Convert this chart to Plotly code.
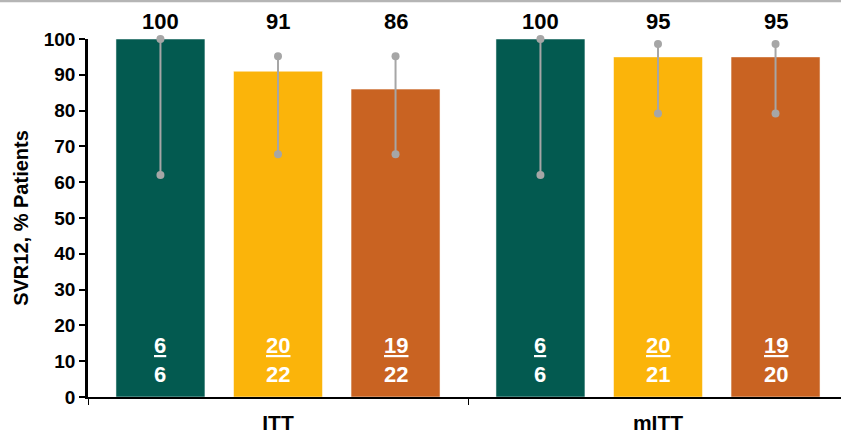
import plotly.graph_objects as go

# ---- data ----
groups = ["ITT", "mITT"]
series_names = ["Arm 1", "Arm 2", "Arm 3"]
values = [[100, 100], [91, 95], [86, 95]]
ci_upper = [[100, 100], [95.2, 98.6], [95.2, 98.6]]
ci_lower = [[62, 62], [67.8, 79.2], [67.8, 79.2]]
numerators = [[6, 6], [20, 20], [19, 19]]
denominators = [[6, 6], [22, 21], [22, 20]]
colors = ["#035A50", "#FBB40A", "#C96322"]

# ---- layout params ----
FONT = "Liberation Sans, Arial, sans-serif"
bargap = 0.072
bargroupgap = 0.243
x_range = [-0.5, 1.4816]
y_range = [0, 100]
err_color = "#A6A6A6"


def to_paper(y):
    return (y - y_range[0]) / (y_range[1] - y_range[0])


fig = go.Figure()
n = len(series_names)
slot = (1 - bargap) / n

for k in range(n):
    fig.add_trace(go.Bar(
        x=groups, y=values[k], name=series_names[k],
        marker=dict(color=colors[k], line=dict(color="rgba(255,255,255,0.5)", width=1)),
        error_y=dict(type="data", symmetric=False,
                     array=[u - v for u, v in zip(ci_upper[k], values[k])],
                     arrayminus=[v - l for v, l in zip(values[k], ci_lower[k])],
                     color=err_color, thickness=2, width=0),
        showlegend=False, hoverinfo="skip",
    ))

annotations = []
for k in range(n):
    xs = [g + (k - (n - 1) / 2) * slot for g in range(len(groups))]
    fig.add_trace(go.Scatter(
        x=xs + xs, y=ci_upper[k] + ci_lower[k], mode="markers",
        marker=dict(color=err_color, size=8), xaxis="x2", yaxis="y",
        showlegend=False, hoverinfo="skip", cliponaxis=False,
    ))
    for i, x in enumerate(xs):
        annotations.append(dict(x=x, y=to_paper(104.8), xref="x2", yref="paper",
                                text=f"<b>{values[k][i]}</b>",
                                showarrow=False, font=dict(family=FONT, size=22, color="black"),
                                yanchor="middle"))
        annotations.append(dict(x=x, y=to_paper(14.3), xref="x2", yref="paper",
                                text=f"<b><u>{numerators[k][i]}</u></b>",
                                showarrow=False, font=dict(family=FONT, size=22, color="white"),
                                yanchor="middle"))
        annotations.append(dict(x=x, y=to_paper(6.2), xref="x2", yref="paper",
                                text=f"<b>{denominators[k][i]}</b>",
                                showarrow=False, font=dict(family=FONT, size=22, color="white"),
                                yanchor="middle"))

fig.update_layout(
    width=841, height=434,
    margin=dict(l=88, r=0, t=39, b=35),
    paper_bgcolor="white", plot_bgcolor="white",
    barmode="group", bargap=bargap, bargroupgap=bargroupgap,
    font=dict(family=FONT, color="black"),
    xaxis=dict(type="category", range=x_range, showline=True, linecolor="black", linewidth=2,
               ticks="outside", tickson="boundaries", ticklen=6, tickwidth=1, tickcolor="black",
               ticklabelstandoff=6,
               tickfont=dict(family=FONT, size=21, color="black", weight="bold"),
               showgrid=False, zeroline=False, fixedrange=True),
    xaxis2=dict(overlaying="x", range=x_range, visible=False, fixedrange=True),
    yaxis=dict(range=y_range, dtick=10, showline=True, linecolor="black", linewidth=2.5,
               ticks="outside", ticklen=6, tickwidth=2, tickcolor="black",
               tickfont=dict(family=FONT, size=19, color="black", weight="bold"),
               showgrid=False, zeroline=False, fixedrange=True,
               title=dict(text="SVR12, % Patients", standoff=10,
                          font=dict(family=FONT, size=20, color="black", weight="bold"))),
    annotations=annotations,
    shapes=[dict(type="line", xref="paper", yref="paper", x0=-0.2, x1=1.0,
                 y0=1 + 38.5 / 360, y1=1 + 38.5 / 360, line=dict(color="#B5B5B5", width=3))],
)

fig.write_html("out.html")
